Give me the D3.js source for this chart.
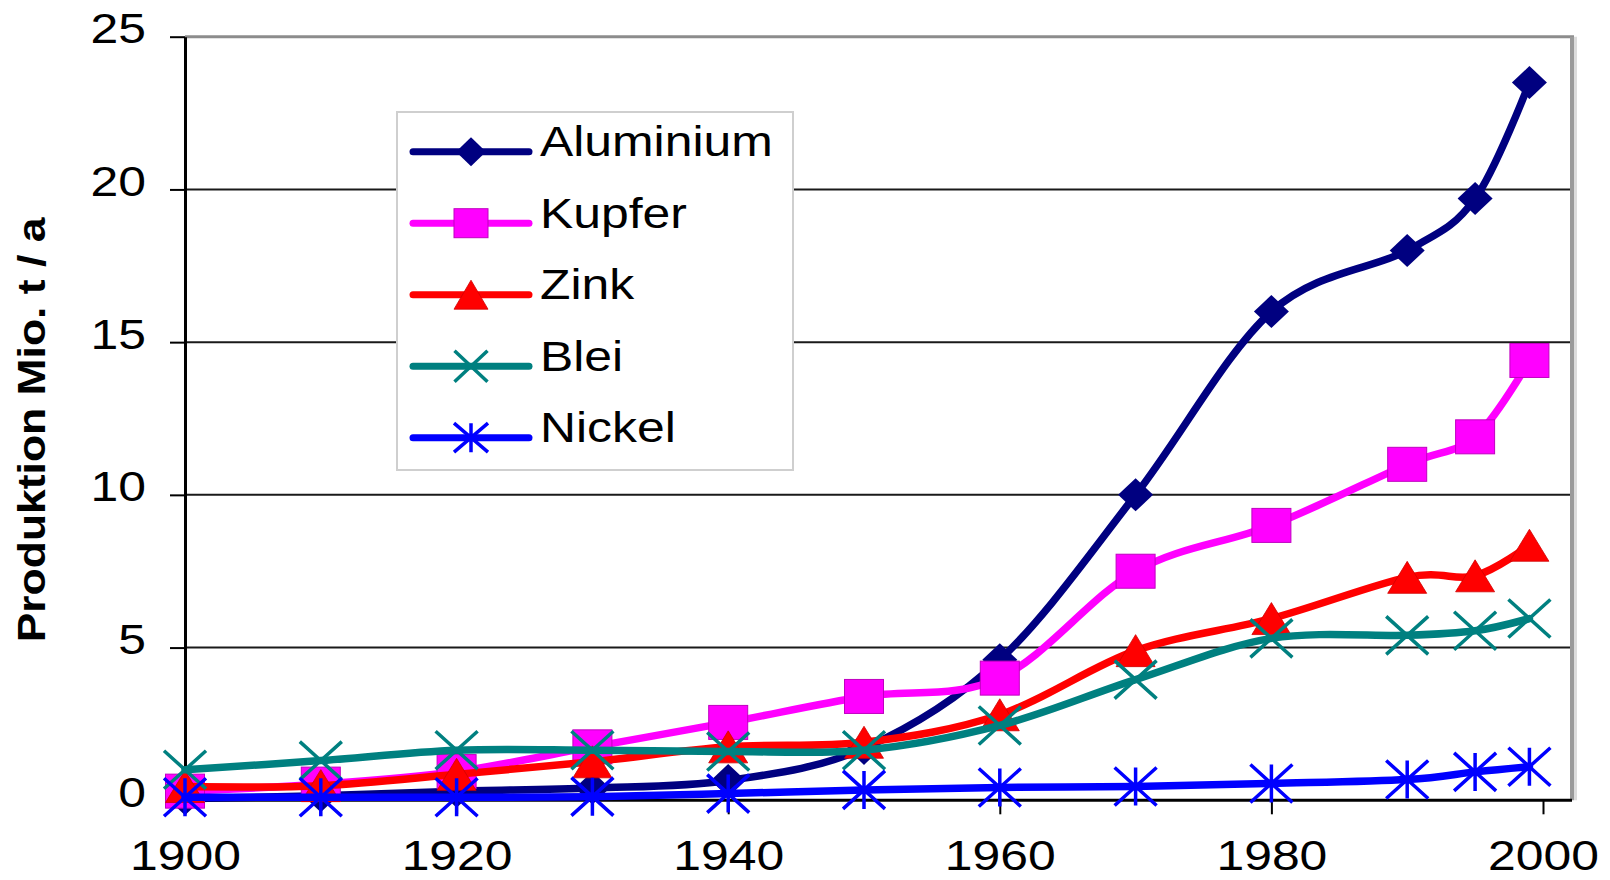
<!DOCTYPE html>
<html>
<head>
<meta charset="utf-8">
<script src="https://cdn.jsdelivr.net/npm/d3@7"></script>
<style>
  html, body { margin: 0; background: #fff; }
  svg { display: block; }
  text { font-family: "Liberation Sans", Arial, sans-serif; fill: #000; }
</style>
</head>
<body>
<svg id="chart" width="1610" height="880"></svg>
<script>
// Weltproduktion wichtiger Nichteisenmetalle (Mio. t / a)
const years     = [1900, 1910, 1920, 1930, 1940, 1950, 1960, 1970, 1980, 1990, 1995, 1999];
const aluminium = [0.05, 0.15, 0.3, 0.4, 0.65, 1.7, 4.6, 10.0, 16.0, 18.0, 19.7, 23.5];
const kupfer    = [0.3, 0.53, 0.94, 1.75, 2.55, 3.4, 4.0, 7.5, 9.0, 11.0, 11.9, 14.4];
const zink      = [0.45, 0.48, 0.85, 1.26, 1.75, 1.9, 2.8, 4.9, 5.95, 7.3, 7.35, 8.35];
const blei      = [1.0, 1.3, 1.64, 1.64, 1.6, 1.64, 2.45, 3.95, 5.3, 5.4, 5.55, 5.95];
const nickel    = [0.1, 0.1, 0.1, 0.12, 0.22, 0.34, 0.42, 0.45, 0.55, 0.68, 0.93, 1.1];

const seriesNames = ["Aluminium", "Kupfer", "Zink", "Blei", "Nickel"];
const seriesValues = [aluminium, kupfer, zink, blei, nickel];

const yTicks = [0, 5, 10, 15, 20, 25];
const xTicks = [1900, 1920, 1940, 1960, 1980, 2000];
const yTitle = "Produktion Mio. t / a";

// ---- appearance ----
const styles = [
  { color: "#000080", marker: "diamond" },
  { color: "#ff00ff", marker: "square" },
  { color: "#ff0000", marker: "triangle" },
  { color: "#008080", marker: "cross" },
  { color: "#0000ff", marker: "star" }
];
const markerSize = {
  diamond:  { hx: 17.5, hy: 16.5 },
  square:   { hx: 19.5, hy: 17 },
  triangle: { hx: 19.5, hy: 16 },
  cross:    { hx: 21, hy: 19 },
  star:     { hx: 21, hy: 19 }
};
const legendMarkerSize = {
  diamond:  { hx: 15, hy: 14.5 },
  square:   { hx: 17, hy: 14.5 },
  triangle: { hx: 17, hy: 14.5 },
  cross:    { hx: 16.5, hy: 15.5 },
  star:     { hx: 17, hy: 14.5 }
};
const SX = 1.16;          // horizontal widening of the lettering
const FONT = 43;
const LINE_W = 7.5;

const plot = { left: 185, right: 1572, top: 36.7, bottom: 800.3 };
const x = d3.scaleLinear().domain([1900, 2000]).range([185, 1543]);
const y = d3.scaleLinear().domain([0, 25]).range([plot.bottom, plot.top]);

const svg = d3.select("#chart");

// horizontal gridlines
svg.append("g")
  .selectAll("line")
  .data(yTicks.filter(v => v > 0 && v < 25))
  .join("line")
  .attr("x1", plot.left).attr("x2", plot.right)
  .attr("y1", d => y(d)).attr("y2", d => y(d))
  .attr("stroke", "#1a1a1a").attr("stroke-width", 2);

// plot-area frame (top and right, grey)
svg.append("line")
  .attr("x1", plot.left).attr("x2", plot.right + 2)
  .attr("y1", y(25)).attr("y2", y(25))
  .attr("stroke", "#8c8c8c").attr("stroke-width", 3);
svg.append("line")
  .attr("x1", plot.right + 3.5).attr("x2", plot.right + 3.5)
  .attr("y1", y(25)).attr("y2", plot.bottom)
  .attr("stroke", "#dcdcdc").attr("stroke-width", 3);
svg.append("line")
  .attr("x1", plot.right).attr("x2", plot.right)
  .attr("y1", y(25)).attr("y2", plot.bottom)
  .attr("stroke", "#9a9a9a").attr("stroke-width", 4);

// y axis
const gy = svg.append("g")
  .attr("transform", `translate(${plot.left},0)`)
  .call(d3.axisLeft(y).tickValues(yTicks).tickSize(15).tickSizeOuter(0).tickFormat(d3.format("d")));
gy.select(".domain").attr("stroke", "#000").attr("stroke-width", 3);
gy.selectAll(".tick line").attr("stroke", "#000").attr("stroke-width", 2);
gy.selectAll(".tick text")
  .attr("x", -39 / SX).attr("dy", null).attr("y", 6)
  .attr("transform", `scale(${SX},1)`)
  .attr("font-size", FONT);

// x axis
const gx = svg.append("g")
  .attr("transform", `translate(0,${plot.bottom})`)
  .call(d3.axisBottom(x).tickValues(xTicks).tickSize(14).tickSizeOuter(0).tickFormat(d3.format("d")));
gx.select(".domain").remove();
gx.selectAll(".tick line").attr("stroke", "#000").attr("stroke-width", 2);
gx.selectAll(".tick text")
  .attr("dy", null).attr("y", 70)
  .attr("transform", `scale(${SX},1)`)
  .attr("font-size", FONT);
svg.append("line")
  .attr("x1", plot.left - 1.5).attr("x2", plot.right)
  .attr("y1", plot.bottom).attr("y2", plot.bottom)
  .attr("stroke", "#000").attr("stroke-width", 3);

// y axis title
svg.append("text")
  .attr("transform", `translate(45,430) rotate(-90) scale(1.17,1)`)
  .attr("text-anchor", "middle")
  .attr("font-size", 38)
  .attr("font-weight", "bold")
  .text(yTitle);

// marker drawing
function drawMarker(g, type, color, size) {
  const { hx, hy } = size;
  if (type === "diamond") {
    g.append("path").attr("d", `M0,${-hy}L${hx},0L0,${hy}L${-hx},0Z`).attr("fill", color);
  } else if (type === "square") {
    g.append("rect").attr("x", -hx).attr("y", -hy).attr("width", 2 * hx).attr("height", 2 * hy)
      .attr("fill", color).attr("stroke", "#c000c0").attr("stroke-width", 1);
  } else if (type === "triangle") {
    g.append("path").attr("d", `M0,${-hy}L${hx},${hy}L${-hx},${hy}Z`).attr("fill", color)
      .attr("stroke", "#d00000").attr("stroke-width", 0.8);
  } else if (type === "cross") {
    g.append("path").attr("d", `M${-hx},${-hy}L${hx},${hy}M${-hx},${hy}L${hx},${-hy}`)
      .attr("stroke", color).attr("stroke-width", 3.5).attr("fill", "none");
  } else if (type === "star") {
    g.append("path").attr("d", `M${-hx},${-hy}L${hx},${hy}M${-hx},${hy}L${hx},${-hy}M0,${-hy}L0,${hy}`)
      .attr("stroke", color).attr("stroke-width", 3.5).attr("fill", "none");
  }
}

// series lines (smoothed) and markers
const lineGen = d3.line()
  .x(d => x(d.year))
  .y(d => y(d.value))
  .curve(d3.curveCatmullRom.alpha(0));

seriesNames.forEach((name, i) => {
  const data = years.map((yr, j) => ({ year: yr, value: seriesValues[i][j] }));
  const st = styles[i];
  const g = svg.append("g").attr("class", "series");
  g.append("path")
    .datum(data)
    .attr("d", lineGen)
    .attr("fill", "none")
    .attr("stroke", st.color)
    .attr("stroke-width", LINE_W)
    .attr("stroke-linejoin", "round")
    .attr("stroke-linecap", "round");
  g.selectAll("g.pt")
    .data(data)
    .join("g")
    .attr("class", "pt")
    .attr("transform", d => `translate(${x(d.year)},${y(d.value)})`)
    .each(function () { drawMarker(d3.select(this), st.marker, st.color, markerSize[st.marker]); });
});

// legend
const legend = svg.append("g");
legend.append("rect")
  .attr("x", 397).attr("y", 112).attr("width", 396).attr("height", 358)
  .attr("fill", "#fff").attr("stroke", "#cfcfcf").attr("stroke-width", 2);
seriesNames.forEach((name, i) => {
  const st = styles[i];
  const ry = 151.7 + i * 71.5;
  legend.append("line")
    .attr("x1", 413).attr("x2", 529).attr("y1", ry).attr("y2", ry)
    .attr("stroke", st.color).attr("stroke-width", LINE_W - 0.5).attr("stroke-linecap", "round");
  const mg = legend.append("g").attr("transform", `translate(471,${ry})`);
  drawMarker(mg, st.marker, st.color, legendMarkerSize[st.marker]);
  legend.append("text")
    .attr("transform", `translate(540,${ry + 4.5}) scale(${SX},1)`)
    .attr("font-size", FONT)
    .text(name);
});
</script>
</body>
</html>
